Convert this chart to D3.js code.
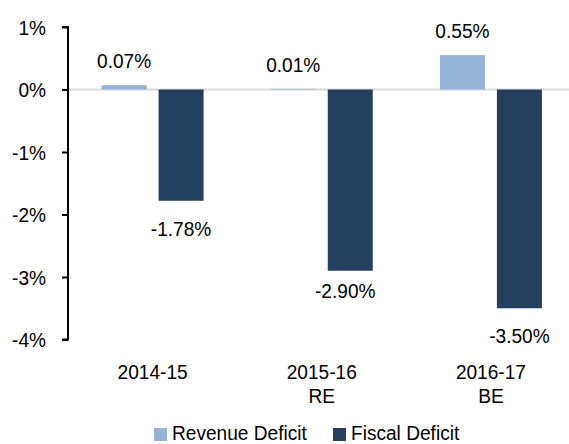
<!DOCTYPE html>
<html>
<head>
<meta charset="utf-8">
<script src="https://cdn.jsdelivr.net/npm/d3@7"></script>
<style>
  html, body { margin: 0; padding: 0; background: #fff; }
  svg { display: block; }
  text { font-family: "Liberation Sans", Arial, sans-serif; fill: #000; }
</style>
</head>
<body>
<svg id="chart" width="569" height="444"></svg>
<script>
const categories = [["2014-15"], ["2015-16", "RE"], ["2016-17", "BE"]];
const seriesNames = ["Revenue Deficit", "Fiscal Deficit"];
const revenueDeficit = [0.07, 0.01, 0.55];
const fiscalDeficit = [-1.78, -2.90, -3.50];
const yTicks = [1, 0, -1, -2, -3, -4];
const colors = ["#95B3D7", "#243F60"];

const svg = d3.select("#chart");
const W = 569, H = 444;
const left = 68, plotRight = 575.5;
const fs = 21, sx = 0.91;

function addText(parent, x, y, str, anchor) {
  return parent.append("text")
    .attr("transform", `translate(${x},${y}) scale(${sx},1)`)
    .attr("text-anchor", anchor || "middle")
    .attr("font-size", fs)
    .text(str);
}

const x = d3.scaleBand().domain(d3.range(categories.length)).range([left, plotRight]);
const y = d3.scaleLinear().domain([-4, 1]).range([339.5, 27]);
const barW = 45, gap = 12;
const groupW = barW * 2 + gap;

// zero line
svg.append("line")
  .attr("x1", left).attr("x2", W)
  .attr("y1", y(0)).attr("y2", y(0))
  .attr("stroke", "#D9D9D9").attr("stroke-width", 2);

// y axis
const yAxis = d3.axisLeft(y).tickValues(yTicks).tickSize(6).tickFormat(d => d + "%");
const gy = svg.append("g").attr("transform", `translate(${left},0)`).call(yAxis);
gy.attr("font-family", null).attr("font-size", null);
gy.select(".domain").attr("stroke", "#000").attr("stroke-width", 2)
  .attr("d", `M-6,${y(1)}H0V${y(-4)}H-6`);
gy.selectAll(".tick line").attr("stroke", "#000").attr("stroke-width", 2);
gy.selectAll(".tick text")
  .attr("font-size", fs).attr("fill", "#000")
  .attr("x", -22 / sx).attr("dy", "0.34em")
  .attr("transform", `scale(${sx},1)`);

// bars + labels
const labelDown = [35, 27, 35];
const labelShiftX = [0, -5, 0];
[revenueDeficit, fiscalDeficit].forEach((vals, si) => {
  const g = svg.append("g");
  vals.forEach((v, i) => {
    const cx = x(i) + x.bandwidth() / 2;
    const bx = cx - groupW / 2 + si * (barW + gap);
    const y0 = y(Math.max(0, v)), y1 = y(Math.min(0, v));
    g.append("rect")
      .attr("x", bx).attr("y", y0)
      .attr("width", barW).attr("height", Math.max(0, y1 - y0))
      .attr("fill", colors[si]);
    if (v >= 0) {
      addText(g, bx + barW / 2, y(v) - 17, v.toFixed(2) + "%");
    } else {
      addText(g, bx + barW / 2 + labelShiftX[i], y(v) + labelDown[i], v.toFixed(2) + "%");
    }
  });
});

// x labels
categories.forEach((lines, i) => {
  const cx = x(i) + x.bandwidth() / 2;
  lines.forEach((ln, j) => addText(svg, cx, 379 + j * 24, ln));
});

// legend
const legendX = [154, 333];
seriesNames.forEach((name, i) => {
  const lx = legendX[i];
  svg.append("rect").attr("x", lx).attr("y", 428).attr("width", 13).attr("height", 13).attr("fill", colors[i]);
  addText(svg, lx + 18, 440, name, "start");
});
</script>
</body>
</html>
